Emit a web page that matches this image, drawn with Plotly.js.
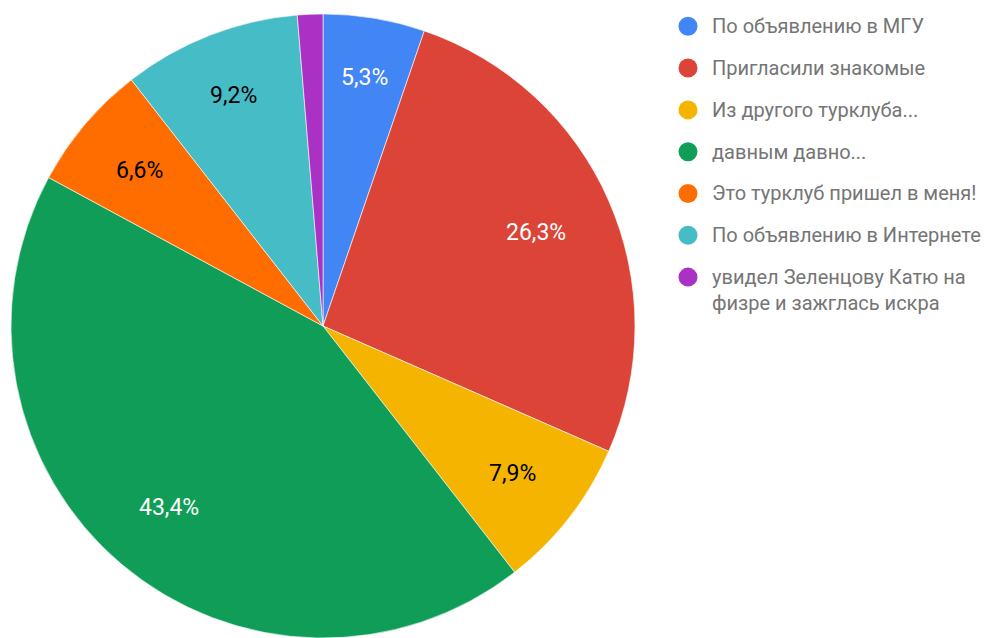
<!DOCTYPE html>
<html>
<head>
<meta charset="utf-8">
<script src="https://cdn.plot.ly/plotly-3.0.1.min.js"></script>
<style>html,body{margin:0;padding:0;background:#fff;}#chart{width:992px;height:638px;}</style>
</head>
<body>
<div id="chart"></div>
<script>
const categories = [
  "По объявлению в МГУ",
  "Пригласили знакомые",
  "Из другого турклуба...",
  "давным давно...",
  "Это турклуб пришел в меня!",
  "По объявлению в Интернете",
  "увидел Зеленцову Катю на<br>физре и зажглась искра"
];
const counts = [4, 20, 6, 33, 5, 7, 1];
const colors = ["#4285f4", "#db4437", "#f4b400", "#0f9d58", "#ff6d01", "#46bdc6", "#ab30c4"];
const labelColors = ["#ffffff", "#ffffff", "#000000", "#ffffff", "#000000", "#000000", "#000000"];
const showLabel = [true, true, true, true, true, true, false];

const FONT = "Roboto, Arial, sans-serif";
const LABEL_SIZE = 23;
const PIE_R_PX = 312;

const pie = {
  type: "pie",
  labels: categories,
  values: counts,
  sort: false,
  direction: "clockwise",
  rotation: 0,
  marker: {colors: colors, line: {color: "#ffffff", width: 0.6}},
  textinfo: "none",
  hoverinfo: "label+percent",
  showlegend: false,
  domain: {x: [11/992, 635/992], y: [0, 624/638]}
};

// percentage labels placed along each slice's bisector (Google-chart style)
const total = counts.reduce((a, b) => a + b, 0);
const labelAnnotations = [];
let cum = 0;
counts.forEach((v, i) => {
  const frac = v / total;
  const mid = (cum + frac / 2) * 2 * Math.PI;
  cum += frac;
  if (!showLabel[i]) return;
  const pctText = (frac * 100).toFixed(1).replace(".", ",") + "%";
  const digits = pctText.replace(/[^0-9]/g, "").length;
  const hw = 0.5 * LABEL_SIZE * (0.562 * digits + 0.196 + 0.733);
  const hh = 0.5 * LABEL_SIZE * 0.72;
  const rPx = 0.845 * PIE_R_PX - (hw * Math.abs(Math.sin(mid)) + hh * Math.abs(Math.cos(mid)));
  const r = rPx / PIE_R_PX;
  labelAnnotations.push({
    xref: "x3", yref: "y3",
    x: r * Math.sin(mid), y: r * Math.cos(mid),
    text: pctText,
    showarrow: false,
    xanchor: "center", yanchor: "middle",
    font: {family: FONT, size: LABEL_SIZE, color: labelColors[i]}
  });
});

const idx = categories.map((_, i) => i);
const legendMarkers = {
  type: "scatter",
  mode: "markers",
  x: idx.map(() => 0),
  y: idx,
  xaxis: "x2",
  yaxis: "y2",
  marker: {color: colors, size: 19, symbol: "circle"},
  hoverinfo: "skip",
  showlegend: false
};

const legendAnnotations = categories.map((c, i) => ({
  xref: "x2", yref: "y2",
  x: 0, y: i,
  text: c,
  showarrow: false,
  xanchor: "left", yanchor: "top",
  xshift: 22, yshift: 14,
  align: "left",
  font: {family: FONT, size: 20, color: "#757575"}
}));

const layout = {
  width: 992,
  height: 638,
  margin: {l: 0, r: 0, t: 0, b: 0},
  paper_bgcolor: "#ffffff",
  plot_bgcolor: "rgba(0,0,0,0)",
  showlegend: false,
  xaxis2: {domain: [0, 1], range: [-688, 304], visible: false, fixedrange: true},
  yaxis2: {domain: [0, 1], range: [14.634, -0.629], visible: false, fixedrange: true},
  xaxis3: {domain: [11/992, 635/992], range: [-1, 1], visible: false, fixedrange: true},
  yaxis3: {domain: [0, 624/638], range: [-1, 1], visible: false, fixedrange: true},
  annotations: labelAnnotations.concat(legendAnnotations)
};

Plotly.newPlot("chart", [pie, legendMarkers], layout, {displayModeBar: false, staticPlot: true});
</script>
</body>
</html>
